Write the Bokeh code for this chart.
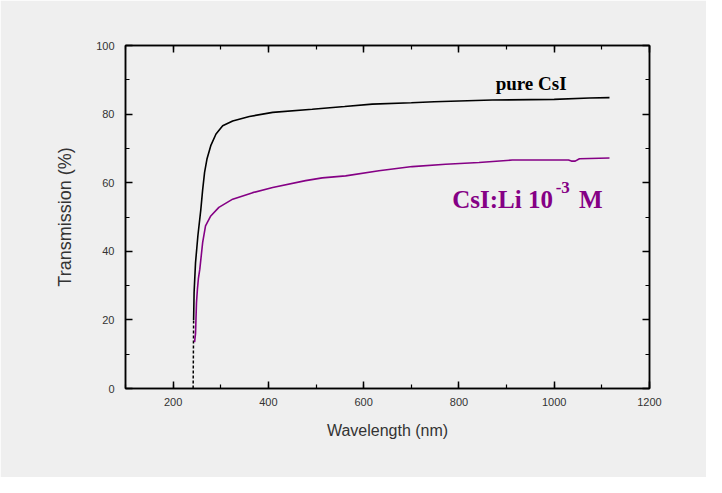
from bokeh.plotting import figure
from bokeh.models import LinearAxis, SingleIntervalTicker, Label
from bokeh.embed import file_html
from bokeh.resources import INLINE

# Data
pure_wl = [242, 242.5, 243, 244, 247, 252, 258, 262, 266, 271, 279, 290, 304, 325, 360, 409,
           492, 560, 618, 700, 748, 870, 1000, 1074, 1116]
pure_T = [0, 10, 20, 28, 36.7, 44.6, 52, 58, 63, 66.9, 70.8, 74.2, 76.6, 78.0, 79.3, 80.5,
          81.4, 82.2, 82.9, 83.3, 83.6, 84.1, 84.3, 84.7, 84.8]

li_wl = [245, 247, 249, 251, 253, 256, 262, 268, 279, 296, 325, 367, 409, 478, 513, 562,
         632, 702, 772, 842, 912, 996, 1030, 1036, 1044, 1053, 1116]
li_T = [13.5, 16, 25, 29, 32, 34.8, 42.6, 47.4, 50.3, 52.8, 55.2, 57.1, 58.6, 60.6, 61.4, 62.0,
        63.5, 64.7, 65.4, 65.9, 66.6, 66.6, 66.6, 66.3, 66.3, 67.0, 67.2]

x_ticks_interval = 200
y_ticks_interval = 20

BG = "#EFEFEF"
PURPLE = "#850085"

p = figure(width=706, height=477, x_range=(100, 1200), y_range=(0, 100),
           output_backend="svg", toolbar_location=None,
           min_border_left=125, min_border_right=57, min_border_top=45, min_border_bottom=89)
p.background_fill_color = BG
p.border_fill_color = BG
p.outline_line_color = "black"
p.outline_line_width = 1.5
p.xgrid.visible = False
p.ygrid.visible = False

def style_axis(ax, show_labels=True):
    ax.axis_line_color = "black"
    ax.axis_line_width = 1.5
    ax.major_tick_in = 7
    ax.major_tick_out = 0
    ax.minor_tick_in = 4
    ax.minor_tick_out = 0
    ax.major_tick_line_color = "black"
    ax.minor_tick_line_color = "black"
    ax.major_tick_line_width = 1.5
    ax.minor_tick_line_width = 1.2
    ax.major_label_text_font = "Liberation Sans"
    ax.major_label_text_font_size = "11px"
    ax.major_label_text_color = "#333333"
    ax.major_label_standoff = 9
    if not show_labels:
        ax.major_label_text_color = None
        ax.major_label_text_font_size = "0px"

p.xaxis.ticker = SingleIntervalTicker(interval=x_ticks_interval, num_minor_ticks=2)
p.yaxis.ticker = SingleIntervalTicker(interval=y_ticks_interval, num_minor_ticks=2)
style_axis(p.xaxis[0])
style_axis(p.yaxis[0])
p.yaxis.major_label_standoff = 11
p.xaxis.axis_label = "Wavelength (nm)"
p.yaxis.axis_label = "Transmission (%)"
for ax in (p.xaxis[0], p.yaxis[0]):
    ax.axis_label_text_font = "Liberation Sans"
    ax.axis_label_text_font_style = "normal"
    ax.axis_label_text_color = "#333333"
p.xaxis.axis_label_text_font_size = "16px"
p.yaxis.axis_label_text_font_size = "18px"
p.xaxis.axis_label_standoff = 13
p.yaxis.axis_label_standoff = 18

top = LinearAxis(ticker=SingleIntervalTicker(interval=x_ticks_interval, num_minor_ticks=2))
style_axis(top, show_labels=False)
p.add_layout(top, "above")
right = LinearAxis(ticker=SingleIntervalTicker(interval=y_ticks_interval, num_minor_ticks=2))
style_axis(right, show_labels=False)
p.add_layout(right, "right")

# pure CsI: steep dashed foot then solid curve
p.line(pure_wl[:3], pure_T[:3], line_color="black", line_width=1.5, line_dash="3 2")
p.line(pure_wl[2:], pure_T[2:], line_color="black", line_width=1.6)
# CsI:Li
p.line(li_wl, li_T, line_color=PURPLE, line_width=1.6)

# annotations
p.add_layout(Label(x=877, y=88.9, text="pure CsI", text_font="Liberation Serif",
                   text_font_style="bold", text_font_size="19px", text_color="black",
                   text_baseline="alphabetic"))
p.add_layout(Label(x=786, y=55.1, text="CsI:Li 10", text_font="Liberation Serif",
                   text_font_style="bold", text_font_size="25px", text_color=PURPLE,
                   text_baseline="alphabetic"))
p.add_layout(Label(x=1003, y=58.6, text="-3", text_font="Liberation Serif",
                   text_font_style="bold", text_font_size="17px", text_color=PURPLE,
                   text_baseline="alphabetic"))
p.add_layout(Label(x=1052, y=55.1, text="M", text_font="Liberation Serif",
                   text_font_style="bold", text_font_size="25px", text_color=PURPLE,
                   text_baseline="alphabetic"))

open("out.html", "w").write(file_html(p, INLINE))
